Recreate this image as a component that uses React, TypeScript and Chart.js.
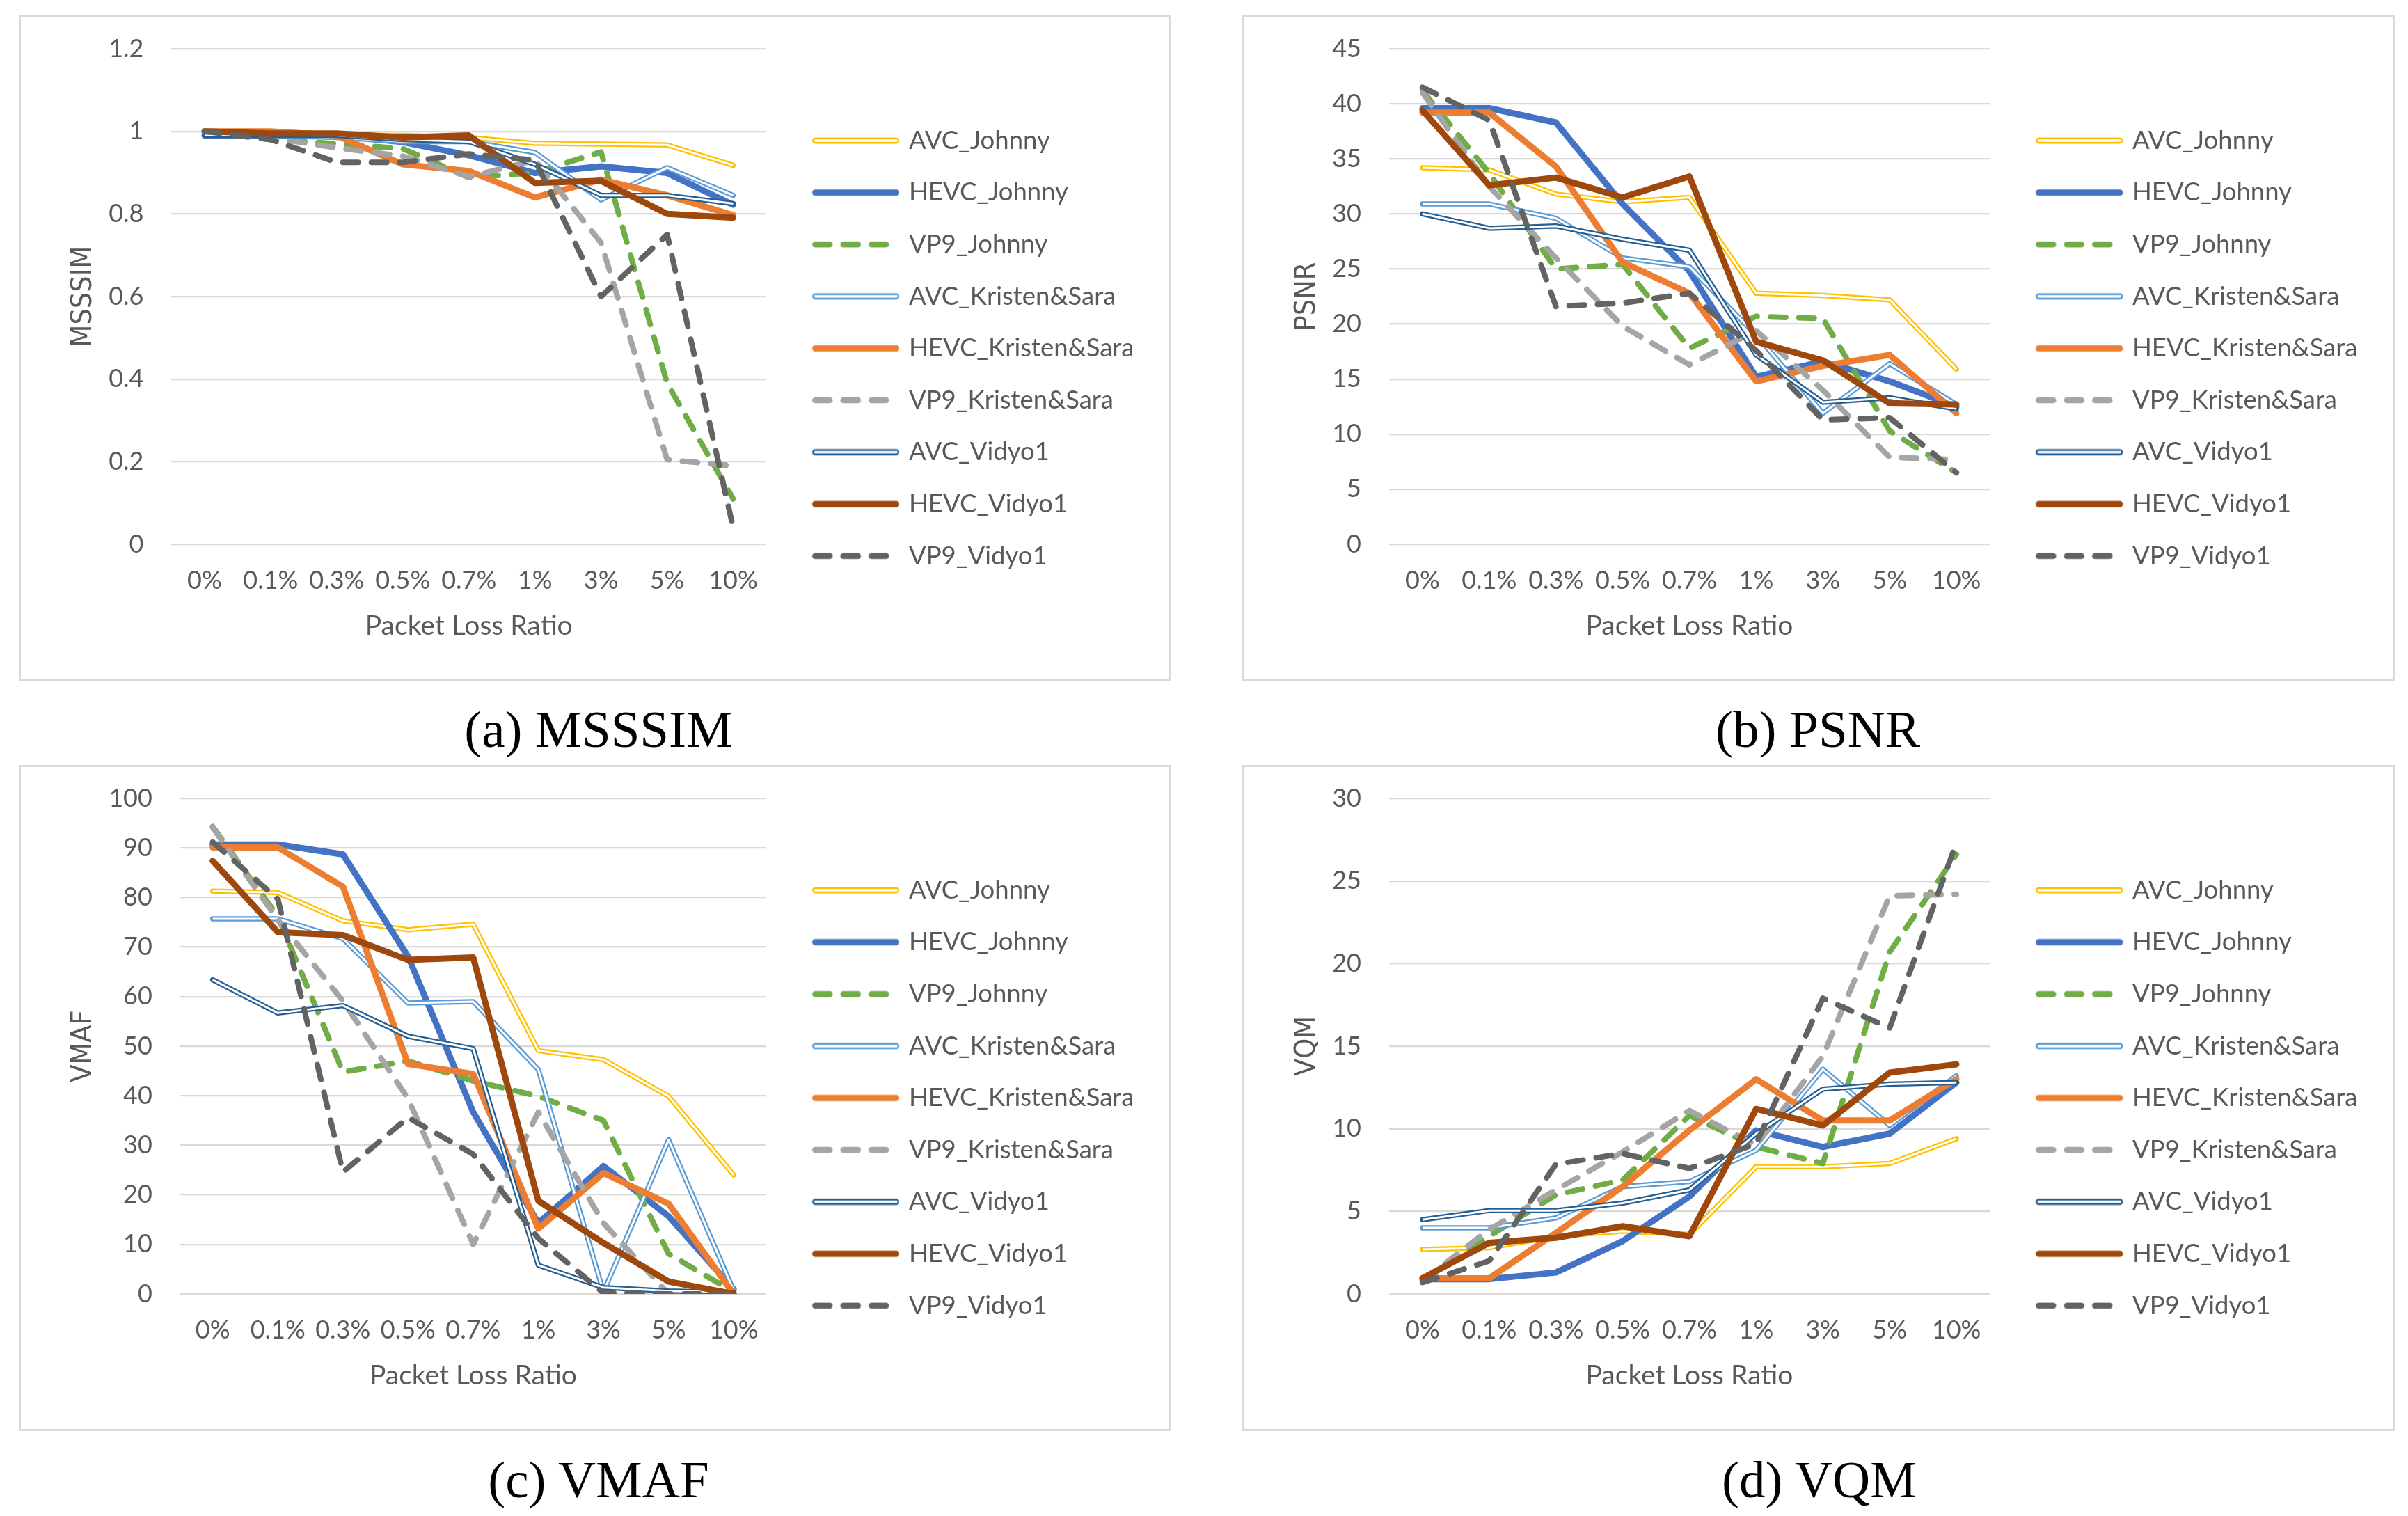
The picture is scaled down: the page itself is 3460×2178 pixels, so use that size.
import React, { useEffect, useRef } from 'react';
import { Chart, registerables } from 'chart.js';
Chart.register(...registerables);

// ---------- data ----------
const categories = ['0%', '0.1%', '0.3%', '0.5%', '0.7%', '1%', '3%', '5%', '10%'];
const seriesNames = [
  'AVC_Johnny', 'HEVC_Johnny', 'VP9_Johnny',
  'AVC_Kristen&Sara', 'HEVC_Kristen&Sara', 'VP9_Kristen&Sara',
  'AVC_Vidyo1', 'HEVC_Vidyo1', 'VP9_Vidyo1',
];
const seriesColors = ['#FFC000', '#4472C4', '#70AD47', '#5B9BD5', '#ED7D31', '#A5A5A5', '#255E91', '#9E480E', '#636363'];
const seriesKinds = ['double', 'solid', 'dash', 'double', 'solid', 'dash', 'double', 'solid', 'dash'];

// MSSSIM
const msssimAvcJohnny = [0.995, 0.995, 0.99, 0.99, 0.985, 0.971, 0.969, 0.967, 0.918];
const msssimHevcJohnny = [0.99, 0.99, 0.99, 0.974, 0.942, 0.899, 0.915, 0.899, 0.822];
const msssimVp9Johnny = [1.0, 0.98, 0.97, 0.958, 0.888, 0.9, 0.95, 0.39, 0.11];
const msssimAvcKS = [0.99, 0.99, 0.985, 0.975, 0.975, 0.949, 0.834, 0.912, 0.845];
const msssimHevcKS = [1.0, 1.0, 0.99, 0.92, 0.904, 0.84, 0.883, 0.845, 0.797];
const msssimVp9KS = [1.0, 0.985, 0.96, 0.94, 0.89, 0.93, 0.73, 0.205, 0.19];
const msssimAvcVidyo = [0.99, 0.99, 0.99, 0.98, 0.975, 0.92, 0.845, 0.845, 0.825];
const msssimHevcVidyo = [1.0, 0.995, 0.995, 0.985, 0.99, 0.875, 0.88, 0.8, 0.791];
const msssimVp9Vidyo = [1.0, 0.98, 0.925, 0.925, 0.945, 0.93, 0.6, 0.75, 0.04];

// PSNR
const psnrAvcJohnny = [34.2, 34.0, 31.8, 31.1, 31.5, 22.8, 22.6, 22.2, 15.9];
const psnrHevcJohnny = [39.6, 39.6, 38.3, 30.9, 24.8, 15.2, 16.6, 14.8, 12.5];
const psnrVp9Johnny = [41.2, 33.7, 25.0, 25.4, 17.8, 20.7, 20.5, 10.3, 6.5];
const psnrAvcKS = [30.9, 30.9, 29.6, 26.0, 25.2, 19.0, 11.9, 16.4, 12.7];
const psnrHevcKS = [39.2, 39.2, 34.3, 25.6, 22.8, 14.8, 16.2, 17.2, 11.9];
const psnrVp9KS = [41.0, 32.5, 26.0, 19.8, 16.3, 19.4, 14.0, 7.9, 7.7];
const psnrAvcVidyo = [30.0, 28.7, 28.9, 27.7, 26.7, 17.2, 12.9, 13.3, 12.3];
const psnrHevcVidyo = [39.4, 32.6, 33.3, 31.5, 33.4, 18.4, 16.7, 12.8, 12.7];
const psnrVp9Vidyo = [41.5, 38.5, 21.6, 21.9, 22.8, 17.6, 11.3, 11.5, 6.5];

// VMAF
const vmafAvcJohnny = [81.3, 81.0, 75.3, 73.5, 74.6, 49.1, 47.3, 39.9, 24.0];
const vmafHevcJohnny = [90.7, 90.7, 88.7, 68.1, 36.7, 14.3, 25.8, 15.7, 0.9];
const vmafVp9Johnny = [94.3, 76.2, 44.8, 47.0, 43.0, 39.9, 35.0, 8.1, 0.4];
const vmafAvcKS = [75.7, 75.7, 71.7, 58.7, 59.0, 45.3, 0.4, 31.1, 0.7];
const vmafHevcKS = [90.1, 90.1, 82.2, 46.4, 44.4, 13.2, 24.4, 18.2, 0];
const vmafVp9KS = [94.1, 75.5, 59.1, 39.4, 10.0, 36.7, 14.3, 0, 0];
const vmafAvcVidyo = [63.4, 56.7, 58.2, 52.0, 49.5, 5.8, 1.3, 0.6, 0.3];
const vmafHevcVidyo = [87.4, 73.0, 72.4, 67.4, 67.9, 18.8, 10.3, 2.5, 0];
const vmafVp9Vidyo = [91.2, 79.7, 24.6, 35.6, 28.2, 11.2, 0.2, 0, 0];

// VQM
const vqmAvcJohnny = [2.7, 2.8, 3.5, 3.8, 3.6, 7.7, 7.7, 7.9, 9.4];
const vqmHevcJohnny = [0.9, 0.9, 1.3, 3.2, 5.9, 9.9, 8.9, 9.7, 12.8];
const vqmVp9Johnny = [0.75, 3.5, 6.0, 6.9, 10.8, 8.9, 7.9, 20.7, 26.6];
const vqmAvcKS = [4.0, 4.0, 4.6, 6.5, 6.8, 8.7, 13.6, 10.2, 13.2];
const vqmHevcKS = [0.95, 0.95, 3.7, 6.5, 9.9, 13.0, 10.5, 10.5, 13.0];
const vqmVp9KS = [0.8, 3.9, 6.3, 8.6, 11.1, 9.0, 14.4, 24.1, 24.2];
const vqmAvcVidyo = [4.5, 5.05, 5.05, 5.5, 6.3, 9.7, 12.4, 12.7, 12.8];
const vqmHevcVidyo = [0.95, 3.1, 3.4, 4.1, 3.5, 11.2, 10.2, 13.4, 13.9];
const vqmVp9Vidyo = [0.7, 2.0, 7.85, 8.5, 7.6, 9.1, 17.9, 16.1, 27.3];

const msssimSeries = [msssimAvcJohnny, msssimHevcJohnny, msssimVp9Johnny, msssimAvcKS, msssimHevcKS, msssimVp9KS, msssimAvcVidyo, msssimHevcVidyo, msssimVp9Vidyo];
const psnrSeries = [psnrAvcJohnny, psnrHevcJohnny, psnrVp9Johnny, psnrAvcKS, psnrHevcKS, psnrVp9KS, psnrAvcVidyo, psnrHevcVidyo, psnrVp9Vidyo];
const vmafSeries = [vmafAvcJohnny, vmafHevcJohnny, vmafVp9Johnny, vmafAvcKS, vmafHevcKS, vmafVp9KS, vmafAvcVidyo, vmafHevcVidyo, vmafVp9Vidyo];
const vqmSeries = [vqmAvcJohnny, vqmHevcJohnny, vqmVp9Johnny, vqmAvcKS, vqmHevcKS, vqmVp9KS, vqmAvcVidyo, vqmHevcVidyo, vqmVp9Vidyo];

// ---------- styling ----------
const TEXT = '#595959';
const GRID = '#d9d9d9';
const BOX_W = 1656;
const BOX_H = 957;
const BORDER = 3;
const CANVAS_W = BOX_W - 2 * BORDER;
const CANVAS_H = BOX_H - 2 * BORDER;
const LEGEND_FONT = 36.5;
const LEGEND_PAD = 38.1;
const LEGEND_BOX = 148.6;
const SAMPLE_W = 158;
const SAMPLE_X0 = 32.6;

function makeSample(kind: string, color: string): HTMLCanvasElement {
  const c = document.createElement('canvas');
  c.width = SAMPLE_W;
  c.height = 16;
  const g = c.getContext('2d')!;
  const y = 8;
  const x0 = SAMPLE_X0;
  const x1 = SAMPLE_W;
  g.strokeStyle = color;
  g.lineCap = 'round';
  if (kind === 'solid') {
    g.lineWidth = 9;
    g.beginPath(); g.moveTo(x0 + 4.5, y); g.lineTo(x1 - 4.5, y); g.stroke();
  } else if (kind === 'dash') {
    g.lineWidth = 8.5;
    g.setLineDash([21, 19.5]);
    g.beginPath(); g.moveTo(x0 + 4.25, y); g.lineTo(x1 - 4.25, y); g.stroke();
  } else {
    g.lineWidth = 9;
    g.beginPath(); g.moveTo(x0 + 4.5, y); g.lineTo(x1 - 4.5, y); g.stroke();
    g.lineCap = 'butt';
    g.strokeStyle = '#ffffff';
    g.lineWidth = 3.5;
    g.beginPath(); g.moveTo(x0 + 3, y); g.lineTo(x1 - 3, y); g.stroke();
  }
  return c;
}

// lets the legend text run past the (narrow) legend box without clipping
const legendUnclip = {
  id: 'legendUnclip',
  afterLayout(chart: any) {
    const lg = chart.legend;
    if (lg) {
      lg.right = chart.width;
      lg.width = chart.width - lg.left;
    }
  },
};

type PanelProps = {
  left: number;
  top: number;
  yTitle: string;
  yMax: number;
  yStep: number;
  series: number[][];
};

function Panel({ left, top, yTitle, yMax, yStep, series }: PanelProps) {
  const ref = useRef<HTMLCanvasElement | null>(null);
  useEffect(() => {
    if (!ref.current) return;
    const samples = seriesKinds.map((k, i) => makeSample(k, seriesColors[i]));
    const datasets: any[] = [];
    const legendIdx: number[] = [];
    series.forEach((data, i) => {
      const kind = seriesKinds[i];
      legendIdx.push(datasets.length);
      datasets.push({
        label: seriesNames[i],
        data,
        borderColor: seriesColors[i],
        backgroundColor: seriesColors[i],
        borderWidth: kind === 'solid' ? 9 : kind === 'dash' ? 8 : 7.5,
        borderDash: kind === 'dash' ? [22, 19] : [],
        borderCapStyle: 'round',
        borderJoinStyle: 'round',
        pointRadius: 0,
        pointHoverRadius: 0,
        tension: 0,
        fill: false,
        order: 100 - 2 * i,
      });
      if (kind === 'double') {
        datasets.push({
          label: seriesNames[i] + ' inner',
          data,
          borderColor: '#ffffff',
          backgroundColor: '#ffffff',
          borderWidth: 3,
          borderCapStyle: 'butt',
          borderJoinStyle: 'round',
          pointRadius: 0,
          pointHoverRadius: 0,
          tension: 0,
          fill: false,
          order: 99 - 2 * i,
        });
      }
    });

    const chart = new Chart(ref.current, {
      type: 'line',
      data: { labels: categories, datasets },
      plugins: [legendUnclip],
      options: {
        responsive: false,
        animation: false,
        events: [],
        layout: { padding: { left: 10, top: 45, right: 279, bottom: 45.2 } },
        plugins: {
          tooltip: { enabled: false },
          legend: {
            position: 'right',
            align: 'center',
            maxWidth: 300,
            labels: {
              usePointStyle: true,
              pointStyleWidth: LEGEND_BOX,
              padding: LEGEND_PAD,
              color: TEXT,
              font: { family: 'Lato', size: LEGEND_FONT },
              generateLabels: () =>
                seriesNames.map((name, i) => ({
                  text: name,
                  pointStyle: samples[i] as any,
                  datasetIndex: legendIdx[i],
                  fillStyle: 'rgba(0,0,0,0)',
                  strokeStyle: 'rgba(0,0,0,0)',
                  lineWidth: 0,
                  hidden: false,
                  fontColor: TEXT,
                })),
            },
          },
        },
        scales: {
          x: {
            type: 'category',
            offset: true,
            grid: { display: false, drawTicks: false },
            border: { display: false },
            ticks: {
              color: TEXT,
              font: { family: 'Lato', size: 36 },
              padding: 30.4,
              maxRotation: 0,
              autoSkip: false,
            },
            title: {
              display: true,
              text: 'Packet Loss Ratio',
              color: TEXT,
              font: { family: 'Lato', size: 39 },
              padding: { top: -10.4, bottom: 8.4 },
            },
          },
          y: {
            type: 'linear',
            min: 0,
            max: yMax,
            grid: { color: GRID, lineWidth: 2.3, drawTicks: false },
            border: { display: false },
            afterFit: (scale: any) => {
              scale.paddingTop = 0;
              scale.paddingBottom = 0;
            },
            ticks: {
              stepSize: yStep,
              color: TEXT,
              font: { family: 'Lato', size: 36 },
              padding: 40,
              callback: (v: any) => String(Math.round(Number(v) * 10) / 10),
            },
            title: {
              display: true,
              text: yTitle,
              color: TEXT,
              font: { family: 'DejaVu Sans Condensed', size: 41 },
              padding: { top: 56, bottom: -29 },
            },
          },
        },
      },
    });
    return () => chart.destroy();
  }, []);

  return (
    <div
      style={{
        position: 'absolute',
        left,
        top,
        width: BOX_W,
        height: BOX_H,
        border: `${BORDER}px solid ${GRID}`,
        boxSizing: 'border-box',
        background: '#ffffff',
      }}
    >
      <canvas
        ref={ref}
        width={CANVAS_W}
        height={CANVAS_H}
        style={{ display: 'block', width: CANVAS_W, height: CANVAS_H }}
      />
    </div>
  );
}

function Caption({ cx, cy, text }: { cx: number; cy: number; text: string }) {
  return (
    <div
      style={{
        position: 'absolute',
        left: cx - 400,
        top: cy - 43,
        width: 800,
        height: 86,
        lineHeight: '86px',
        textAlign: 'center',
        fontFamily: "'Liberation Serif', 'DejaVu Serif', serif",
        fontSize: 75,
        color: '#000000',
        whiteSpace: 'nowrap',
      }}
    >
      {text}
    </div>
  );
}

export default function App() {
  return (
    <div style={{ position: 'absolute', left: 0, top: 0, width: 3460, height: 2178, background: '#ffffff', overflow: 'hidden' }}>
      <Panel left={27} top={22} yTitle="MSSSIM" yMax={1.2} yStep={0.2} series={msssimSeries} />
      <Panel left={1785} top={22} yTitle="PSNR" yMax={45} yStep={5} series={psnrSeries} />
      <Panel left={27} top={1099} yTitle="VMAF" yMax={100} yStep={10} series={vmafSeries} />
      <Panel left={1785} top={1099} yTitle="VQM" yMax={30} yStep={5} series={vqmSeries} />
      <Caption cx={860} cy={1048} text="(a) MSSSIM" />
      <Caption cx={2612} cy={1048} text="(b) PSNR" />
      <Caption cx={860} cy={2126} text="(c) VMAF" />
      <Caption cx={2614} cy={2126} text="(d) VQM" />
    </div>
  );
}
